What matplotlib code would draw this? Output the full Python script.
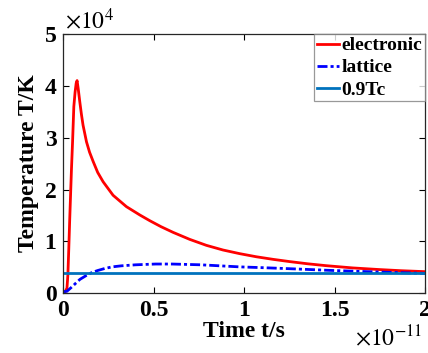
import numpy as np
import matplotlib
matplotlib.use('Agg')
import matplotlib.pyplot as plt
from matplotlib.ticker import FuncFormatter

# values, time in units of 1e-11 s, temperature in units of 1e4 K
t_electronic = [0.0, 0.01, 0.02, 0.025, 0.03, 0.035, 0.04, 0.045, 0.051, 0.058, 0.065, 0.071,
                0.076, 0.082, 0.091, 0.1, 0.109, 0.128, 0.145, 0.165, 0.19, 0.22, 0.275,
                0.349, 0.423, 0.478, 0.54, 0.607, 0.699, 0.791, 0.883, 0.975, 1.067, 1.16,
                1.251, 1.35, 1.454, 1.6, 1.749, 1.87, 2.0]
T_electronic = [0.03, 0.03, 0.1, 0.35, 0.85, 1.4, 1.9, 2.4, 2.92, 3.6, 3.88, 4.05,
                4.10, 3.95, 3.69, 3.45, 3.24, 2.92, 2.72, 2.54, 2.33, 2.15, 1.89,
                1.67, 1.51, 1.40, 1.285, 1.175, 1.04, 0.925, 0.835, 0.765, 0.705, 0.655,
                0.612, 0.57, 0.533, 0.49, 0.458, 0.436, 0.418]

t_lattice = [0.0, 0.02, 0.046, 0.07, 0.092, 0.125, 0.157, 0.19, 0.23, 0.27, 0.32, 0.4,
             0.51, 0.6, 0.76, 0.975, 1.1, 1.251, 1.472, 1.749, 2.0]
T_lattice = [0.03, 0.04, 0.12, 0.2, 0.27, 0.34, 0.40, 0.44, 0.48, 0.51, 0.53, 0.55,
             0.565, 0.565, 0.55, 0.51, 0.495, 0.475, 0.443, 0.41, 0.385]

Tc_level = 0.40
x_ticks = [0, 0.5, 1, 1.5, 2]
y_ticks = [0, 1, 2, 3, 4, 5]

t_e = np.array(t_electronic) * 1e-11
T_e = np.array(T_electronic) * 1e4
t_l = np.array(t_lattice) * 1e-11
T_l = np.array(T_lattice) * 1e4

plt.rcParams['font.family'] = 'Liberation Serif'
plt.rcParams['mathtext.fontset'] = 'stix'

fig = plt.figure(figsize=(4.28, 3.53), dpi=100)
ax = fig.add_axes([0.148, 0.169, 0.845, 0.735])

ax.plot(t_e, T_e, color='red', lw=2, label='electronic')
ax.plot(t_l, T_l, color='blue', lw=2, linestyle=(0, (3.6, 1.1, 1.1, 1.1)), label='lattice')
ax.axhline(Tc_level * 1e4, color='#0072BD', lw=2, label='0.9Tc')

ax.set_xlim(0, 2e-11)
ax.set_ylim(0, 5e4)
ax.set_xticks([v * 1e-11 for v in x_ticks])
ax.set_yticks([v * 1e4 for v in y_ticks])
ax.xaxis.set_major_formatter(FuncFormatter(lambda v, p: f'{v / 1e-11:g}'))
ax.yaxis.set_major_formatter(FuncFormatter(lambda v, p: f'{v / 1e4:g}'))
ax.tick_params(direction='in', top=True, right=True, length=4, width=0.8,
               labelsize=17, pad=5)
for lab in ax.get_xticklabels() + ax.get_yticklabels():
    lab.set_fontweight('bold')
for s in ax.spines.values():
    s.set_linewidth(0.9)
    s.set_color('#262626')

ax.set_xlabel('Time t/s', fontsize=17, fontweight='bold', labelpad=0)
ax.set_ylabel('Temperature T/K', fontsize=17, fontweight='bold', labelpad=4)

ax.text(0.005, 1.0, r'$\times10^{4}$', transform=ax.transAxes, fontsize=17,
        ha='left', va='bottom')
ax.text(0.992, -0.222, r'$\times10^{-11}$', transform=ax.transAxes, fontsize=17,
        ha='right', va='bottom')

leg = ax.legend(loc='upper right', borderaxespad=0, fancybox=False,
                prop={'weight': 'bold', 'size': 14}, handlelength=1.12,
                handletextpad=0.13, labelspacing=0.23, borderpad=0.15)
leg.get_frame().set_edgecolor('0.5')
leg.get_frame().set_linewidth(0.9)

fig.savefig('out.png', dpi=100)
